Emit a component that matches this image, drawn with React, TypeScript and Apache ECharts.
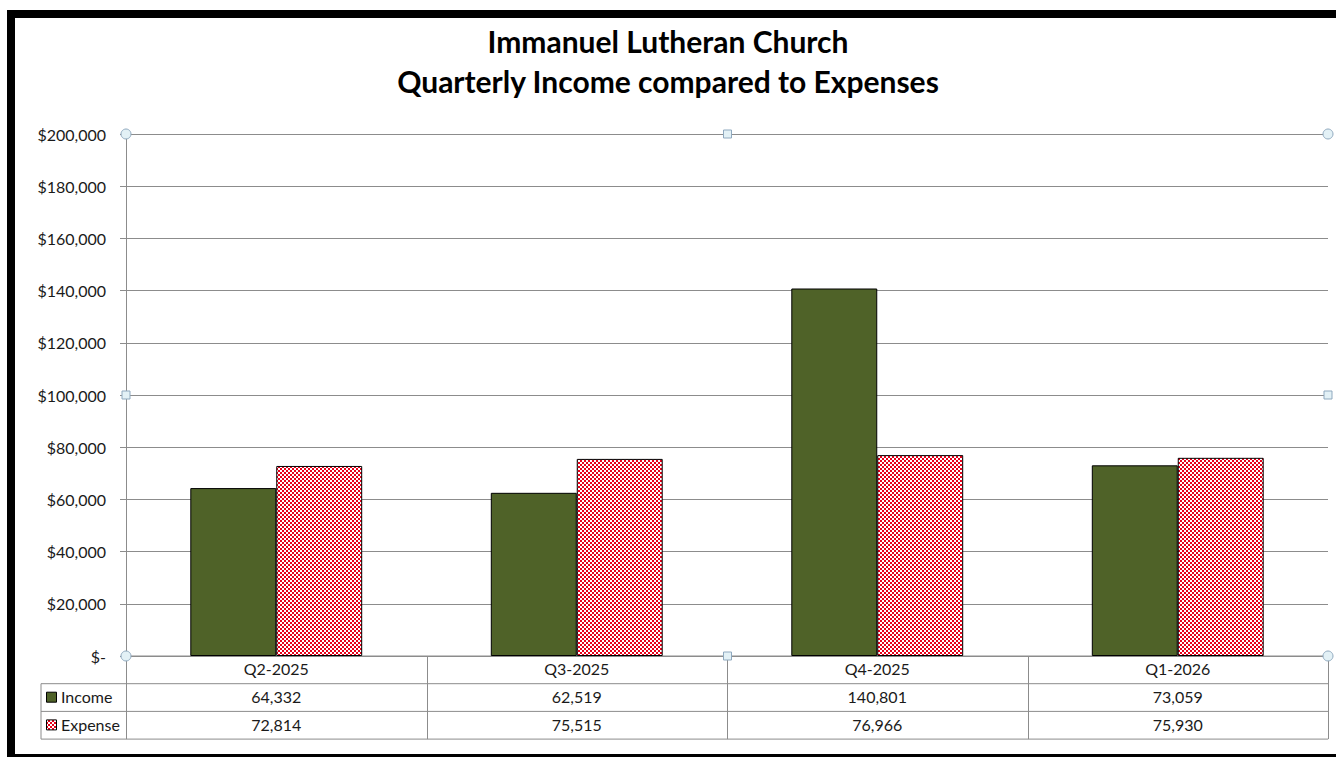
import React, { useEffect, useRef } from "react";
import * as echarts from "echarts";

const categories = ["Q2-2025", "Q3-2025", "Q4-2025", "Q1-2026"];
const incomeValues = [64332, 62519, 140801, 73059];
const expenseValues = [72814, 75515, 76966, 75930];
const seriesNames = ["Income", "Expense"];
const titleLines = ["Immanuel Lutheran Church", "Quarterly Income compared to Expenses"];

const W = 1336;
const H = 757;
const GRID_LEFT = 126;
const GRID_RIGHT = 1328;
const GRID_TOP = 134;
const GRID_BOTTOM = 656;
const ROW_H = 27.7;
const FONT = "Lato, 'Open Sans', sans-serif";
const GREEN = "#4F6228";
const LINE = "#8C8C8C";
const TEXT = "#1a1a1a";

function makeChecker(): HTMLCanvasElement {
  const c = document.createElement("canvas");
  c.width = 4;
  c.height = 4;
  const ctx = c.getContext("2d")!;
  ctx.fillStyle = "#ffffff";
  ctx.fillRect(0, 0, 4, 4);
  ctx.fillStyle = "#E8001A";
  ctx.fillRect(0, 0, 2, 2);
  ctx.fillRect(2, 2, 2, 2);
  return c;
}

const fmt = (v: number) => v.toLocaleString("en-US");

export default function App() {
  const ref = useRef<HTMLDivElement>(null);
  useEffect(() => {
    if (!ref.current) return;
    const chart = echarts.init(ref.current, undefined, { renderer: "svg" });
    const checker = makeChecker();
    const pattern: any = { image: checker, repeat: "repeat" };

    const colW = (GRID_RIGHT - GRID_LEFT) / categories.length;
    const rowY = [GRID_BOTTOM, GRID_BOTTOM + ROW_H, GRID_BOTTOM + 2 * ROW_H, GRID_BOTTOM + 3 * ROW_H];
    const graphics: any[] = [];

    // frame
    graphics.push({ type: "rect", shape: { x: 7, y: 10, width: W, height: 8 }, style: { fill: "#000" }, z: 100 });
    graphics.push({ type: "rect", shape: { x: 7, y: 10, width: 8, height: H }, style: { fill: "#000" }, z: 100 });
    graphics.push({ type: "rect", shape: { x: 7, y: 754, width: W, height: 4 }, style: { fill: "#000" }, z: 100 });

    // table horizontal lines
    graphics.push({ type: "line", shape: { x1: GRID_LEFT, y1: rowY[0], x2: GRID_RIGHT, y2: rowY[0] }, style: { stroke: LINE, lineWidth: 1 } });
    for (let r = 1; r < 4; r++) {
      graphics.push({ type: "line", shape: { x1: 41, y1: rowY[r], x2: GRID_RIGHT, y2: rowY[r] }, style: { stroke: LINE, lineWidth: 1 } });
    }
    // vertical lines
    graphics.push({ type: "line", shape: { x1: 41, y1: rowY[1], x2: 41, y2: rowY[3] }, style: { stroke: LINE, lineWidth: 1 } });
    for (let i = 0; i <= categories.length; i++) {
      const x = Math.round(GRID_LEFT + i * colW) + 0.5;
      graphics.push({ type: "line", shape: { x1: x, y1: rowY[0], x2: x, y2: rowY[3] }, style: { stroke: LINE, lineWidth: 1 } });
    }
    // legend keys
    graphics.push({ type: "rect", shape: { x: 46.5, y: rowY[1] + 8.5, width: 10, height: 10 }, style: { fill: GREEN, stroke: "#000", lineWidth: 1 } });
    graphics.push({ type: "rect", shape: { x: 46.5, y: rowY[2] + 8.5, width: 10, height: 10 }, style: { fill: pattern, stroke: "#000", lineWidth: 1 } });
    graphics.push({ type: "text", x: 61, y: rowY[1] + ROW_H / 2 - 1, style: { text: seriesNames[0], fill: TEXT, font: `16px ${FONT}`, verticalAlign: "middle" } });
    graphics.push({ type: "text", x: 61, y: rowY[2] + ROW_H / 2 - 1, style: { text: seriesNames[1], fill: TEXT, font: `16px ${FONT}`, verticalAlign: "middle" } });

    // selection handles
    const circ = (x: number, y: number) => ({ type: "circle", shape: { cx: x, cy: y, r: 5 }, style: { fill: "#E3F1F6", stroke: "#8FA9BF", lineWidth: 1 }, z: 50 });
    const sq = (x: number, y: number) => ({ type: "rect", shape: { x: x - 4, y: y - 4, width: 8, height: 8 }, style: { fill: "#E3F1F6", stroke: "#8FA9BF", lineWidth: 1 }, z: 50 });
    const midX = (GRID_LEFT + GRID_RIGHT) / 2 + 0.5;
    const midY = (GRID_TOP + GRID_BOTTOM) / 2;
    graphics.push(circ(GRID_LEFT, GRID_TOP), circ(GRID_RIGHT, GRID_TOP), circ(GRID_LEFT, GRID_BOTTOM), circ(GRID_RIGHT, GRID_BOTTOM));
    graphics.push(sq(midX, GRID_TOP), sq(midX, GRID_BOTTOM), sq(GRID_LEFT, midY), sq(GRID_RIGHT, midY));

    const option: any = {
      animation: false,
      backgroundColor: "#fff",
      title: {
        text: titleLines.join("\n"),
        left: "center",
        top: 16,
        textStyle: { fontFamily: FONT, fontWeight: "bold", fontSize: 30, lineHeight: 40, color: "#000" },
      },
      grid: { left: GRID_LEFT, right: W - GRID_RIGHT, top: GRID_TOP, bottom: H - GRID_BOTTOM, containLabel: false },
      xAxis: {
        type: "category",
        data: categories,
        axisLine: { show: false },
        axisTick: { show: false },
        axisLabel: {
          margin: -1,
          interval: 0,
          formatter: (v: string, i: number) => `{a|${v}}\n{a|${fmt(incomeValues[i])}}\n{a|${fmt(expenseValues[i])}}`,
          rich: { a: { fontFamily: FONT, fontSize: 16, lineHeight: ROW_H, color: TEXT } },
        },
      },
      yAxis: {
        type: "value",
        min: 0,
        max: 200000,
        interval: 20000,
        axisLine: { show: true, lineStyle: { color: LINE } },
        axisTick: { show: true, length: 6, lineStyle: { color: LINE } },
        splitLine: { show: true, lineStyle: { color: LINE, width: 1 } },
        axisLabel: {
          margin: 20,
          fontFamily: FONT,
          fontSize: 16,
          color: TEXT,
          formatter: (v: number) => (v === 0 ? "$-" : "$" + fmt(v)),
        },
      },
      series: [
        {
          name: seriesNames[0],
          type: "bar",
          data: incomeValues,
          barGap: "0%",
          barCategoryGap: "42.8%",
          itemStyle: { color: GREEN, borderColor: "#000", borderWidth: 1 },
        },
        {
          name: seriesNames[1],
          type: "bar",
          data: expenseValues,
          barGap: "0%",
          barCategoryGap: "42.8%",
          itemStyle: { color: pattern, borderColor: "#000", borderWidth: 1 },
        },
      ],
      graphic: graphics,
    };
    chart.setOption(option);
    return () => chart.dispose();
  }, []);
  return <div ref={ref} style={{ position: "fixed", left: 0, top: 0, width: W, height: H }} />;
}
